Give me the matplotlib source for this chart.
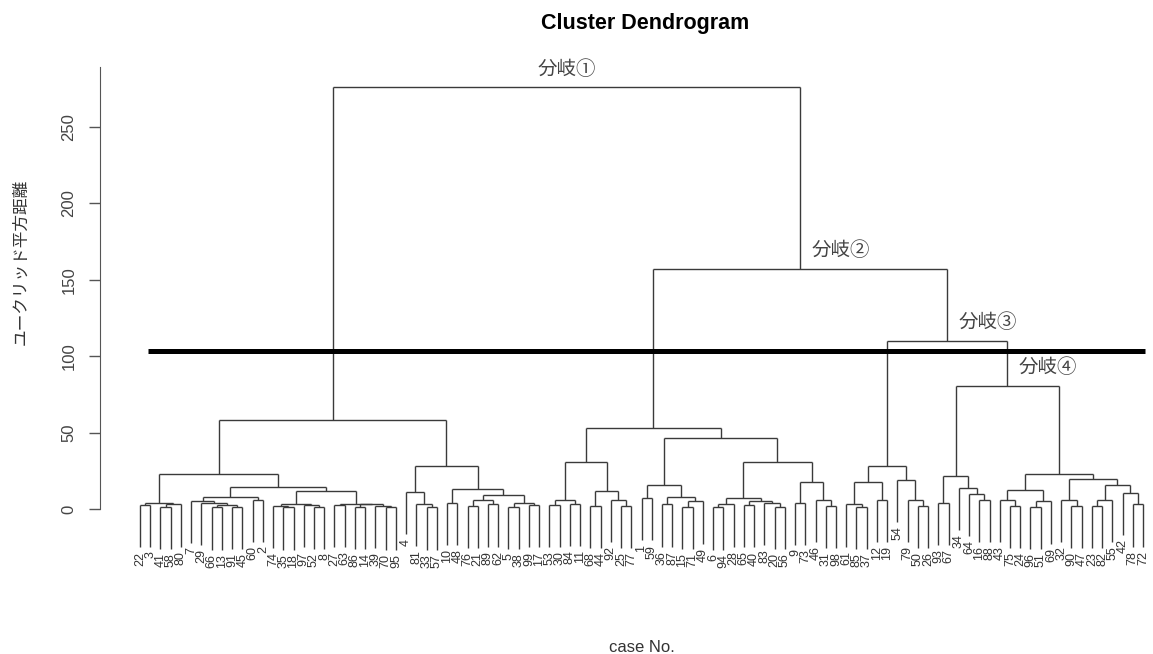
"""Cluster dendrogram (Ward, squared Euclidean) with the four top splits marked."""

import matplotlib

matplotlib.use("Agg")
import matplotlib.pyplot as plt  # noqa: E402
from matplotlib.collections import LineCollection  # noqa: E402

plt.rcParams["font.family"] = ["Liberation Sans", "Noto Sans CJK JP"]

# leaf order left -> right: case numbers under each leaf
LEAF_LABELS = [22, 3, 41, 58, 80, 7, 29, 66, 13, 91, 45, 60, 2, 74, 35, 18, 97,
               52, 8, 27, 63, 86, 14, 39, 70, 95, 4, 81, 33, 57, 10, 48, 76, 21,
               89, 62, 5, 38, 99, 17, 53, 30, 84, 11, 68, 44, 92, 25, 77, 1, 59,
               36, 87, 15, 71, 49, 6, 94, 28, 65, 40, 83, 20, 56, 9, 73, 46, 31,
               98, 61, 85, 37, 12, 19, 54, 79, 50, 26, 93, 67, 34, 64, 16, 88, 43,
               75, 24, 96, 51, 69, 32, 90, 47, 23, 82, 55, 42, 78, 72]

# subtrees as [merge height, left, right]; ints are leaf positions
GROUP_A1 = [23, [4, [2.5, 0, 1], [3, [1.5, 2, 3], 4]],
            [14.5, [8, [5.5, 5, [4, 6, [2.5, [1, 7, 8], [1.5, 9, 10]]]], [6, 11, 12]],
             [12, [3.5, [2, 13, [1, 14, 15]], [2.5, 16, [1.2, 17, 18]]],
              [3.5, [2.5, 19, 20], [3, [1.5, 21, 22], [2, 23, [1, 24, 25]]]]]]]
GROUP_A2 = [28, [11, 26, [3.6, 27, [1, 28, 29]]],
            [13, [4, 30, 31], [9, [6, [2, 32, 33], [3, 34, 35]],
                               [4, [1.5, 36, 37], [2.5, 38, 39]]]]]
GROUP_B1A = [31, [6, [2.5, 40, 41], [3.5, 42, 43]],
             [12, [2, 44, 45], [6, 46, [2, 47, 48]]]]
GROUP_B1B = [46.5, [16, [7, 49, 50], [8, [3, 51, 52], [5, [1.5, 53, 54], 55]]],
             [31, [7, [3, [1, 56, 57], 58], [5.5, [2.5, 59, 60], [4, 61, [1.5, 62, 63]]]],
              [18, [4, 64, 65], [6, 66, [2, 67, 68]]]]]
GROUP_B2A = [28, [18, [3, 69, [1.5, 70, 71]], [6, 72, 73]],
             [19, 74, [6, 75, [2, 76, 77]]]]
GROUP_B2B = [80.5, [21.6, [4, 78, 79], [14, 80, [10, 81, [6, 82, 83]]]],
             [23, [12.5, [6, 84, [2, 85, 86]], [5, [1.5, 87, 88], 89]],
              [19.6, [6, 90, [2, 91, 92]],
               [15.6, [6, [2, 93, 94], 95], [10.5, 96, [3, 97, 98]]]]]]

# upper merges
H_A, H_B1, H_B2, H_B, H_ROOT = 58, 53, 110, 157, 276
CUT_HEIGHT = 103.5
CUT_START = 0.8  # leaf units

GROUP_B2 = [H_B2, GROUP_B2A, GROUP_B2B]
GROUP_B = [H_B, [H_B1, GROUP_B1A, GROUP_B1B], GROUP_B2]
ROOT = [H_ROOT, [H_A, GROUP_A1, GROUP_A2], GROUP_B]

BRANCHES = [(ROOT, "分岐①"), (GROUP_B, "分岐②"), (GROUP_B2, "分岐③"), (GROUP_B2B, "分岐④")]

HANG = 0.1
LINE_COLOR = "#3a3a3a"


def layout(node, segs, pos, leaf_ends, hang):
    if isinstance(node, int):
        return float(node), None
    h, left, right = node
    xs = []
    for child in (left, right):
        x, ch = layout(child, segs, pos, leaf_ends, hang)
        if ch is None:
            ch = h - hang
            leaf_ends[child] = ch
        segs.append([(x, ch), (x, h)])
        xs.append(x)
    segs.append([(xs[0], h), (xs[1], h)])
    x = (xs[0] + xs[1]) / 2
    pos[id(node)] = (x, h)
    return x, h


def main() -> None:
    fig = plt.figure(figsize=(11.53, 6.54), dpi=100)
    ax = fig.add_axes([0.11275, 0.1399, 0.88465, 0.7641])

    segs, pos, leaf_ends = [], {}, {}
    layout(ROOT, segs, pos, leaf_ends, HANG * H_ROOT)
    n = len(leaf_ends)
    ax.add_collection(LineCollection(segs, colors=LINE_COLOR, linewidths=1.0))

    for i, bottom in leaf_ends.items():
        ax.annotate(str(LEAF_LABELS[i]), (i, bottom), xytext=(0, -3),
                    textcoords="offset points", rotation=90, ha="center",
                    va="top", fontsize=9, color="#333333", annotation_clip=False)

    ax.hlines(CUT_HEIGHT, CUT_START, n - 1 + 0.2, color="black", lw=3.6)

    for node, text in BRANCHES:
        x, h = pos[id(node)]
        if node is ROOT:
            ax.annotate(text, (x, h), xytext=(0, 13), textcoords="offset points",
                        ha="center", va="center", fontsize=14, color="#444444")
        else:
            ax.annotate(text, (x, h), xytext=(8, 13), textcoords="offset points",
                        ha="left", va="center", fontsize=14, color="#444444")

    ax.set_xlim(-0.977, 98.68)
    ax.set_ylim(-35, 292)
    for side in ("top", "right", "bottom"):
        ax.spines[side].set_visible(False)
    ax.spines["left"].set_position(("outward", 21.6))
    ax.spines["left"].set_bounds(0, 289)
    ax.spines["left"].set_color("#555555")
    ax.set_xticks([])
    ax.set_yticks([0, 50, 100, 150, 200, 250])
    ax.tick_params(axis="y", length=8, width=1, color="#555555", pad=9,
                   labelsize=12, labelcolor="#444444", labelrotation=90)
    for lab in ax.get_yticklabels():
        lab.set_va("center")

    ax.set_ylabel("ユークリッド平方距離", fontsize=12, color="#333333")
    ax.yaxis.set_label_coords(-0.1, 0.601)

    fig.text(645 / 1153, 1 - 24 / 654, "Cluster Dendrogram", ha="center",
             va="center", fontsize=15.5, fontweight="bold")
    fig.text(642 / 1153, 1 - 647 / 654, "case No.", ha="center", va="center",
             fontsize=12, color="#333333")

    fig.savefig("out.png", dpi=100)
    plt.close(fig)


if __name__ == "__main__":
    main()
